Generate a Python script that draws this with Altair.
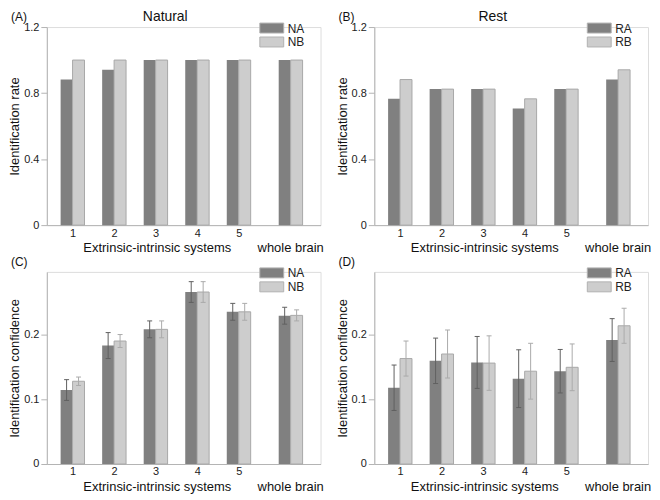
import altair as alt
import pandas as pd

categories = ["1", "2", "3", "4", "5", "whole brain"]
positions = [1, 2, 3, 4, 5, 6.25]

natural_NA = [0.882, 0.941, 1.0, 1.0, 1.0, 1.0]
natural_NB = [1.0, 1.0, 1.0, 1.0, 1.0, 1.0]
rest_RA = [0.765, 0.824, 0.824, 0.706, 0.824, 0.882]
rest_RB = [0.882, 0.824, 0.824, 0.765, 0.824, 0.941]

conf_NA = [0.114, 0.1825, 0.2075, 0.265, 0.2345, 0.2285]
conf_NA_err = [0.016, 0.020, 0.013, 0.016, 0.013, 0.013]
conf_NB = [0.1275, 0.1895, 0.2075, 0.265, 0.2345, 0.229]
conf_NB_err = [0.0065, 0.010, 0.013, 0.016, 0.013, 0.0085]

conf_RA = [0.1175, 0.159, 0.1565, 0.1315, 0.143, 0.191]
conf_RA_err = [0.035, 0.035, 0.040, 0.0445, 0.0335, 0.033]
conf_RB = [0.1625, 0.1695, 0.1555, 0.143, 0.149, 0.213]
conf_RB_err = [0.027, 0.037, 0.042, 0.043, 0.036, 0.027]

FONT = "Liberation Sans"
DARK = "#808080"
LIGHT = "#cdcdcd"
AXIS = "#b3b3b3"
W = 275


def panel(tag, title, names, va, vb, ea, eb, ytitle, ymax, yticks, h):
    rows = []
    for name, vals, errs in ((names[0], va, ea), (names[1], vb, eb)):
        for i, (c, p) in enumerate(zip(categories, positions)):
            e = errs[i] if errs else 0.0
            rows.append(dict(cat=c, pos=p, series=name, value=vals[i],
                             lo=vals[i] - e, hi=vals[i] + e))
    df = pd.DataFrame(rows)
    da = df[df.series == names[0]]
    db = df[df.series == names[1]]

    xs = alt.Scale(domain=[0.5, 6.85], nice=False, zero=False)
    ys = alt.Scale(domain=[0, ymax], nice=False)
    xax = alt.Axis(values=[1, 2, 3, 4, 5], format="d", ticks=False, grid=False,
                   domainColor=AXIS, labelPadding=2, labelFontSize=11,
                   labelColor="#222", labelFont=FONT, title=None)
    yax = alt.Axis(values=yticks, format=".1~f", grid=False, domainColor=AXIS,
                   tickColor=AXIS, tickSize=6, labelPadding=2, labelFontSize=11,
                   labelColor="#222", labelFont=FONT, title=ytitle,
                   titleFontSize=13, titleFontWeight="normal", titleColor="#111",
                   titleFont=FONT, titlePadding=2)

    bar_a = alt.Chart(da).mark_bar(size=12, xOffset=-6, color=DARK).encode(
        x=alt.X("pos:Q", scale=xs, axis=xax),
        y=alt.Y("value:Q", scale=ys, axis=yax))
    bar_b = alt.Chart(db).mark_bar(size=12, xOffset=6, color=LIGHT,
                                   stroke="#a8a8a8", strokeWidth=1).encode(
        x=alt.X("pos:Q", scale=xs),
        y=alt.Y("value:Q", scale=ys))
    layers = [bar_a, bar_b]

    if ea:
        for d, off, col in ((da, -6, "#606060"), (db, 6, "#aaaaaa")):
            base = alt.Chart(d)
            layers.append(base.mark_rule(xOffset=off, color=col, strokeWidth=1).encode(
                x=alt.X("pos:Q", scale=xs), y=alt.Y("lo:Q", scale=ys), y2="hi:Q"))
            for fld in ("lo", "hi"):
                layers.append(base.mark_rule(xOffset=off - 2.5, x2Offset=off + 2.5,
                                             color=col, strokeWidth=1).encode(
                    x=alt.X("pos:Q", scale=xs), x2="pos:Q",
                    y=alt.Y(f"{fld}:Q", scale=ys)))

    one = pd.DataFrame({"t": [0]})
    # legend (swatches + labels)
    for k, (name, fill) in enumerate(zip(names, [DARK, LIGHT])):
        y0 = -4 + 14 * k
        layers.append(alt.Chart(one).mark_rect(color=fill, stroke="#b0b0b0", strokeWidth=1).encode(
            x=alt.value(214), x2=alt.value(238), y=alt.value(y0), y2=alt.value(y0 + 10)))
        layers.append(alt.Chart(one).mark_text(align="left", baseline="middle", fontSize=12,
                                               font=FONT, color="#222").encode(
            x=alt.value(242), y=alt.value(y0 + 5.5), text=alt.value(name)))

    layers.append(alt.Chart(one).mark_text(align="left", baseline="middle", fontSize=12,
                                           font=FONT, color="#111").encode(
        x=alt.value(-36), y=alt.value(-10), text=alt.value(tag)))
    if title:
        layers.append(alt.Chart(one).mark_text(align="center", baseline="middle", fontSize=14,
                                               font=FONT, color="#111").encode(
            x=alt.value(119), y=alt.value(-10), text=alt.value(title)))
    layers.append(alt.Chart(one).mark_text(align="center", baseline="middle", fontSize=13,
                                           font=FONT, color="#111").encode(
        x=alt.value(111), y=alt.value(h + 23), text=alt.value("Extrinsic-intrinsic systems")))
    wb = pd.DataFrame({"pos": [positions[-1]], "cat": [categories[-1]]})
    layers.append(alt.Chart(wb).mark_text(align="center", baseline="middle", fontSize=13,
                                          font=FONT, color="#111").encode(
        x=alt.X("pos:Q", scale=xs), y=alt.value(h + 23), text="cat:N"))

    return alt.layer(*layers).properties(width=W, height=h)


A = panel("(A)", "Natural", ["NA", "NB"], natural_NA, natural_NB, None, None,
          "Identification rate", 1.2, [0, 0.4, 0.8, 1.2], 199)
B = panel("(B)", "Rest", ["RA", "RB"], rest_RA, rest_RB, None, None,
          "Identification rate", 1.2, [0, 0.4, 0.8, 1.2], 199)
C = panel("(C)", None, ["NA", "NB"], conf_NA, conf_NB, conf_NA_err, conf_NB_err,
          "Identification confidence", 0.296, [0, 0.1, 0.2], 193)
D = panel("(D)", None, ["RA", "RB"], conf_RA, conf_RB, conf_RA_err, conf_RB_err,
          "Identification confidence", 0.296, [0, 0.1, 0.2], 193)

chart = alt.concat(A, B, C, D, columns=2).properties(
    spacing={"row": 47, "column": 54}, bounds="flush", padding=0
).configure_view(strokeWidth=0).configure(background="white")

chart.save("out.html", embed_options={"renderer": "svg", "actions": False})
